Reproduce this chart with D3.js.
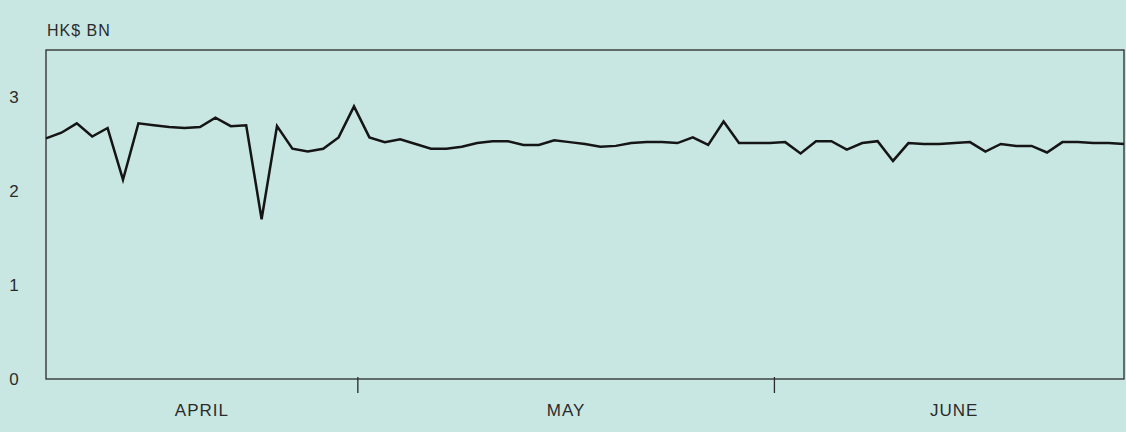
<!DOCTYPE html>
<html>
<head>
<meta charset="utf-8">
<script src="https://cdn.jsdelivr.net/npm/d3@7"></script>
<style>
  html, body { margin: 0; padding: 0; background: #c9e7e2; }
  svg { display: block; }
  text { font-family: "Liberation Sans", Arial, sans-serif; fill: #2b2b2b; }
</style>
</head>
<body>
<div id="chart"></div>
<script>
const width = 1126;
const height = 432;
const unitLabel = "HK$ BN";

// daily values, HK$ bn
const values = [
  2.56, 2.62, 2.72, 2.58, 2.67, 2.12, 2.72, 2.70, 2.68, 2.67,
  2.68, 2.78, 2.69, 2.70, 1.70, 2.69, 2.45, 2.42, 2.45, 2.57,
  2.90, 2.57, 2.52, 2.55, 2.50, 2.45, 2.45, 2.47, 2.51, 2.53,
  2.53, 2.49, 2.49, 2.54, 2.52, 2.50, 2.47, 2.48, 2.51, 2.52,
  2.52, 2.51, 2.57, 2.49, 2.74, 2.51, 2.51, 2.51, 2.52, 2.40,
  2.53, 2.53, 2.44, 2.51, 2.53, 2.32, 2.51, 2.50, 2.50, 2.51,
  2.52, 2.42, 2.50, 2.48, 2.48, 2.41, 2.52, 2.52, 2.51, 2.51,
  2.50
];
const months = ["APRIL", "MAY", "JUNE"];
const monthBreaks = [20.25, 47.3];   // position (in data index) of month divisions
const yTicks = [0, 1, 2, 3];

const margin = {top: 50, right: 2, bottom: 53, left: 46};

const svg = d3.select("#chart")
  .append("svg")
    .attr("width", width)
    .attr("height", height)

svg.append("rect")
  .attr("width", width)
  .attr("height", height)
  .attr("fill", "#c9e7e2")

const x = d3.scaleLinear()
  .domain([0, values.length - 1])
  .range([margin.left, width - margin.right])

const y = d3.scaleLinear()
  .domain([0, 3.5])
  .range([height - margin.bottom, margin.top])

// frame
svg.append("rect")
  .attr("x", x(0))
  .attr("y", y(3.5))
  .attr("width", x(values.length - 1) - x(0))
  .attr("height", y(0) - y(3.5))
  .attr("fill", "none")
  .attr("stroke", "#2a2a2a")
  .attr("stroke-width", 1.3)

// y labels
svg.append("g")
  .selectAll("text")
  .data(yTicks)
  .enter()
  .append("text")
    .attr("x", 14)
    .attr("y", d => y(d))
    .attr("dy", "0.35em")
    .attr("text-anchor", "middle")
    .attr("font-size", 17)
    .text(d => d)

svg.append("text")
  .attr("x", margin.left + 1)
  .attr("y", 30)
  .attr("dy", "0.35em")
  .attr("font-size", 16)
  .attr("letter-spacing", 1)
  .text(unitLabel)

// month divisions
svg.append("g")
  .selectAll("line")
  .data(monthBreaks)
  .enter()
  .append("line")
    .attr("x1", d => x(d))
    .attr("x2", d => x(d))
    .attr("y1", y(0) - 2)
    .attr("y2", y(0) + 14)
    .attr("stroke", "#2a2a2a")
    .attr("stroke-width", 1.3)

const bounds = [0, ...monthBreaks, values.length - 1];
svg.append("g")
  .selectAll("text")
  .data(months)
  .enter()
  .append("text")
    .attr("x", (d, i) => (x(bounds[i]) + x(bounds[i + 1])) / 2 + (i == 2 ? 5 : 0))
    .attr("y", 410)
    .attr("dy", "0.35em")
    .attr("text-anchor", "middle")
    .attr("font-size", 17)
    .attr("letter-spacing", 1)
    .text(d => d)

// the line
const line = d3.line()
  .x((d, i) => x(i))
  .y(d => y(d))

svg.append("path")
  .datum(values)
  .attr("d", line)
  .attr("fill", "none")
  .attr("stroke", "#151515")
  .attr("stroke-width", 2.5)
  .attr("stroke-linejoin", "miter")
</script>
</body>
</html>
